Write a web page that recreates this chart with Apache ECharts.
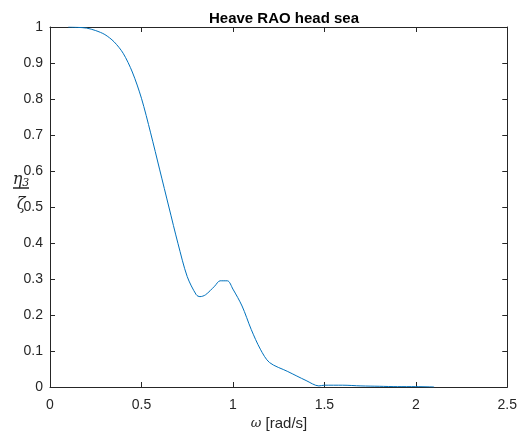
<!DOCTYPE html>
<html><head><meta charset="utf-8">
<script src="https://cdn.jsdelivr.net/npm/echarts@6/dist/echarts.min.js"></script>
<style>html,body{margin:0;padding:0;background:#fff}#c{width:520px;height:438px}</style>
</head><body><div id="c"></div>
<script>
const omega = [0.1,0.15,0.2,0.25,0.3,0.35,0.4,0.45,0.5,0.55,0.6,0.65,0.7,0.75,0.8,0.82,0.85,0.9,0.93,0.97,1.0,1.05,1.1,1.15,1.2,1.3,1.4,1.47,1.5,1.6,1.7,1.8,1.9,2.0,2.1];
const rao   = [1.0,0.999,0.997,0.99,0.979,0.959,0.927,0.875,0.802,0.706,0.603,0.5,0.398,0.307,0.256,0.251,0.256,0.28,0.295,0.295,0.272,0.225,0.16,0.105,0.068,0.043,0.018,0.003,0.005,0.005,0.003,0.002,0.001,0.001,0.0];
const xTicks = [0,0.5,1,1.5,2,2.5];
const yTicks = [0,0.1,0.2,0.3,0.4,0.5,0.6,0.7,0.8,0.9,1];

const axisCol = '#262626';
const font = 'Liberation Sans, Arial, sans-serif';
const chart = echarts.init(document.getElementById('c'));
const fmt = v => String(Math.round(v*10)/10);
const baseX = {type:'value',min:xTicks[0],max:xTicks[xTicks.length-1],interval:0.5,
  axisLine:{show:true,onZero:false,lineStyle:{color:axisCol,width:1}},
  axisTick:{show:true,inside:true,length:5,lineStyle:{color:axisCol}},
  splitLine:{show:false}};
const baseY = {type:'value',min:yTicks[0],max:yTicks[yTicks.length-1],interval:0.1,
  axisLine:{show:true,onZero:false,lineStyle:{color:axisCol,width:1}},
  axisTick:{show:true,inside:true,length:5,lineStyle:{color:axisCol}},
  splitLine:{show:false}};
chart.setOption({
  animation:false,
  backgroundColor:'#fff',
  title:{text:'Heave RAO head sea',left:279,top:6,textAlign:'center',
    textStyle:{fontFamily:font,fontSize:15,fontWeight:'bold',color:'#000'}},
  grid:{left:50,right:12,top:27,bottom:51},
  xAxis:[
    Object.assign({},baseX,{position:'bottom',
      axisLabel:{show:true,color:axisCol,fontFamily:font,fontSize:14,margin:11,formatter:fmt}}),
    Object.assign({},baseX,{position:'top',axisLabel:{show:false}})
  ],
  yAxis:[
    Object.assign({},baseY,{position:'left',
      axisLabel:{show:true,color:axisCol,fontFamily:font,fontSize:14,margin:7,formatter:fmt}}),
    Object.assign({},baseY,{position:'right',axisLabel:{show:false}})
  ],
  graphic:[
    {type:'text',style:{x:279,y:424,text:'{i|ω} [rad/s]',align:'center',verticalAlign:'middle',
      font:'15px '+font,fill:axisCol,
      rich:{i:{fontStyle:'italic',fontFamily:'DejaVu Serif, serif',fontSize:13,fill:axisCol}}}},
    {type:'text',style:{x:21,y:180,text:'{e|η}{s|3}',align:'center',verticalAlign:'middle',
      rich:{e:{fontStyle:'italic',fontFamily:'DejaVu Serif, serif',fontSize:16,fill:axisCol},
            s:{fontStyle:'italic',fontFamily:'DejaVu Serif, serif',fontSize:11,fill:axisCol,padding:[6,0,0,0]}}}},
    {type:'line',shape:{x1:13,y1:188,x2:29,y2:188},style:{stroke:axisCol,lineWidth:1.5}},
    {type:'text',style:{x:21,y:205,text:'ζ',align:'center',verticalAlign:'middle',
      font:'italic 16px DejaVu Serif, serif',fill:axisCol}}
  ],
  series:[{type:'line',data:omega.map((w,i)=>[w,rao[i]]),smooth:0.3,showSymbol:false,
    lineStyle:{color:'#0072BD',width:1},xAxisIndex:0,yAxisIndex:0}]
});
</script></body></html>
